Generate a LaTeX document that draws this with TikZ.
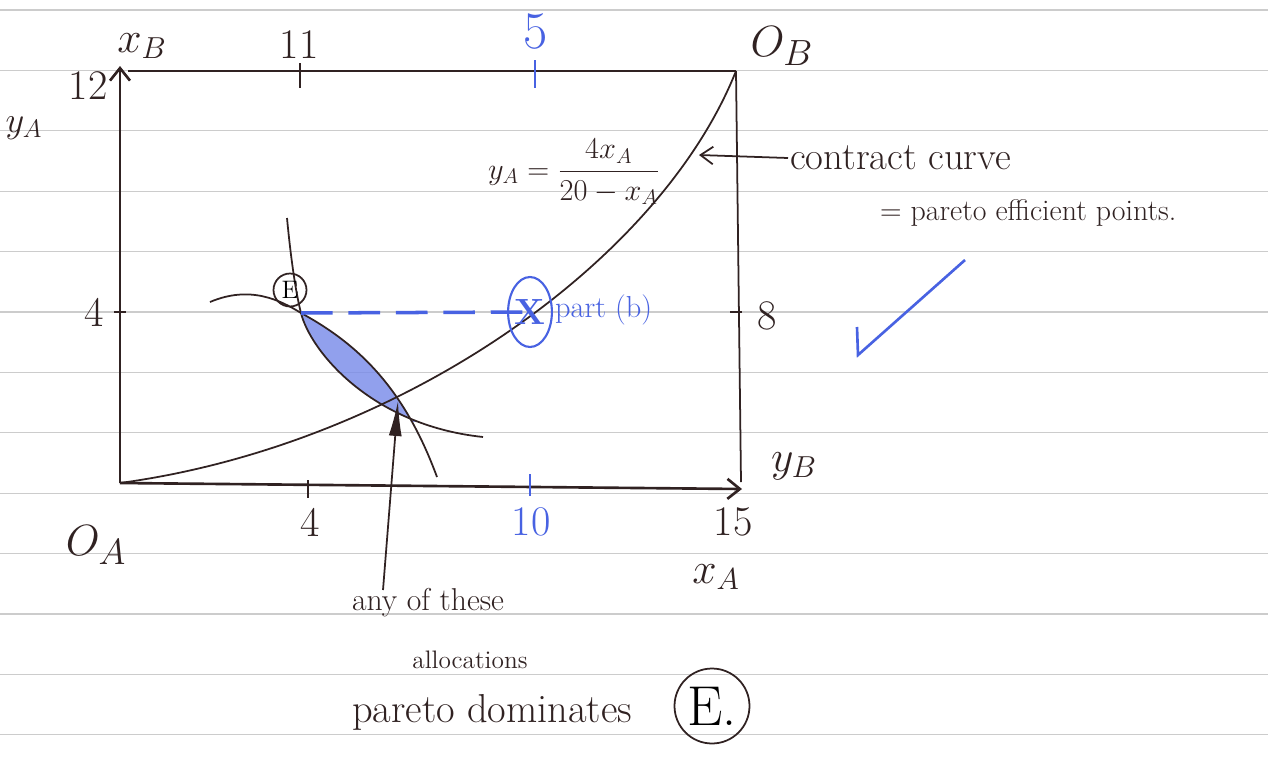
\documentclass[tikz,border=0pt]{standalone}
\usepackage{amsmath}
\usepackage{tikz}
\usetikzlibrary{arrows.meta, shapes.geometric}
\definecolor{ink}{RGB}{48,34,34}
\definecolor{inkblue}{RGB}{72,98,226}

\begin{document}
\begin{tikzpicture}[
  x=0.02cm, y=-0.02cm,
  ruling/.style={gray!40, line width=0.7pt},
  axis/.style={ink, line width=1.5pt},
  curve/.style={ink, line width=1pt},
  tick/.style={ink, line width=1.2pt},
  bluetick/.style={inkblue, line width=1.3pt},
  lbl/.style={text=ink, font=\fontsize{24}{28}\selectfont, inner sep=1pt},
  bluelbl/.style={text=inkblue, font=\fontsize{24}{28}\selectfont, inner sep=1pt},
  biglbl/.style={text=ink, font=\fontsize{30}{34}\selectfont, inner sep=1pt},
  ringed/.style={draw=ink, circle, line width=1pt, inner sep=1pt},
  axarrow/.style={-{Straight Barb[length=2.5mm,width=4mm]}},
  pointer/.style={ink, line width=1pt, -{Straight Barb[length=2.5mm,width=3.5mm]}},
  lensfill/.style={fill=inkblue!75, opacity=0.8}
]

\fill[white] (0,0) rectangle (1268,758);
\useasboundingbox (0,0) rectangle (1268,758);
\foreach \k in {0,...,12}
  \draw[ruling] (0,{10+60.4*\k}) -- (1268,{10+60.4*\k});

\coordinate (OA) at (120,483);
\coordinate (OB) at (736,71);
\coordinate (yAtip) at (120,66);
\coordinate (xAtip) at (742,489);
\coordinate (TL) at (128,71);
\coordinate (BR) at (741,482);
\coordinate (E) at (301,313);
\coordinate (X) at (530,312);
\coordinate (ptrTip) at (398,401);
\coordinate (ptrFoot) at (383,590);
\coordinate (ccTip) at (699,155);

\draw[axis, axarrow] (OA) -- (yAtip);
\draw[axis] (TL) -- (OB);
\draw[curve] (OB) -- (BR);
\draw[axis, axarrow] (OA) -- (xAtip);

\draw[tick] (114,312) -- (126,312);
\draw[tick] (730,312) -- (742,312);
\draw[tick] (300,63) -- (300,88);
\draw[tick] (308,480) -- (308,498);
\draw[bluetick] (535,60) -- (535,88);
\draw[bluetick] (530,474) -- (530,496);

\node[lbl] (xB) at (142,46) {$x_B$};
\node[lbl] (lbl12) at (88,86) {12};
\node[lbl, font=\fontsize{21}{24}\selectfont] (yA) at (24,128) {$y_A$};
\node[lbl] (lbl11) at (299,45) {11};
\node[bluelbl, font=\fontsize{30}{34}\selectfont] (lbl5) at (536,32) {5};
\node[biglbl] (oB) at (782,46) {$O_B$};
\node[lbl] (lbl4y) at (94,312) {4};
\node[lbl] (lbl8) at (767,316) {8};
\node[lbl] (yB) at (794,466) {$y_B$};
\node[biglbl] (oA) at (96,545) {$O_A$};
\node[lbl] (lbl4x) at (310,522) {4};
\node[bluelbl] (lbl10) at (531,522) {10};
\node[lbl] (lbl15) at (733,522) {15};
\node[lbl] (xA) at (716,577) {$x_A$};

\begin{scope}
  \clip (0,0) rectangle (1268,421);
  \fill[lensfill] (E) .. controls (360,345) and (405,390) .. (437,477)
    -- (483,437) .. controls (370,425) and (310,350) .. (E) -- cycle;
\end{scope}

\draw[curve] (OA) .. controls (400,445) and (660,262) .. (OB);

\draw[curve] (287,218) .. controls (290,250) and (295,290) .. (E)
  .. controls (310,350) and (370,425) .. (483,437);
\draw[curve] (210,302) .. controls (250,285) and (280,300) .. (E)
  .. controls (360,345) and (405,390) .. (437,477);

\node[ringed, font=\Large, minimum size=0.66cm] (ringE) at (290,290) {E};

\draw[inkblue, line width=2pt, dash pattern=on 18pt off 9pt] (E) -- (X);
\node[draw=inkblue, ellipse, line width=1.2pt, text=inkblue, font=\huge\bfseries,
  minimum width=0.85cm, minimum height=1.4cm, inner sep=0pt] (ringX) at (X) {X};
\node[bluelbl, font=\LARGE, anchor=west] (partb) at (553,310) {part (b)};

\node[lbl, font=\LARGE] (eqn) at (574,172) {$y_A=\dfrac{4x_A}{20-x_A}$};

\node[lbl, font=\fontsize{22}{26}\selectfont, anchor=west] (cc) at (788,158) {contract curve};
\draw[pointer] (cc.west) -- (ccTip);
\node[lbl, font=\fontsize{17}{20}\selectfont, anchor=west] (pe) at (878,213) {= pareto efficient points.};

\draw[inkblue, line width=1.5pt] (857,327) -- (858,355) -- (965,260);

\draw[ink, line width=1pt, -{Latex[length=7mm,width=2.6mm]}] (ptrFoot) -- (ptrTip);
\node[lbl, font=\fontsize{18}{22}\selectfont, anchor=west] (anyof) at (350,603) {any of these};
\node[lbl, font=\Large] (alloc) at (470,660) {allocations};
\node[lbl, font=\fontsize{23}{27}\selectfont, anchor=west] (dom) at (350,712) {pareto dominates};
\node[ringed, font=\fontsize{32}{36}\selectfont, minimum size=1.5cm] (ringE2) at (712,706) {E.};

\end{tikzpicture}
\end{document}
